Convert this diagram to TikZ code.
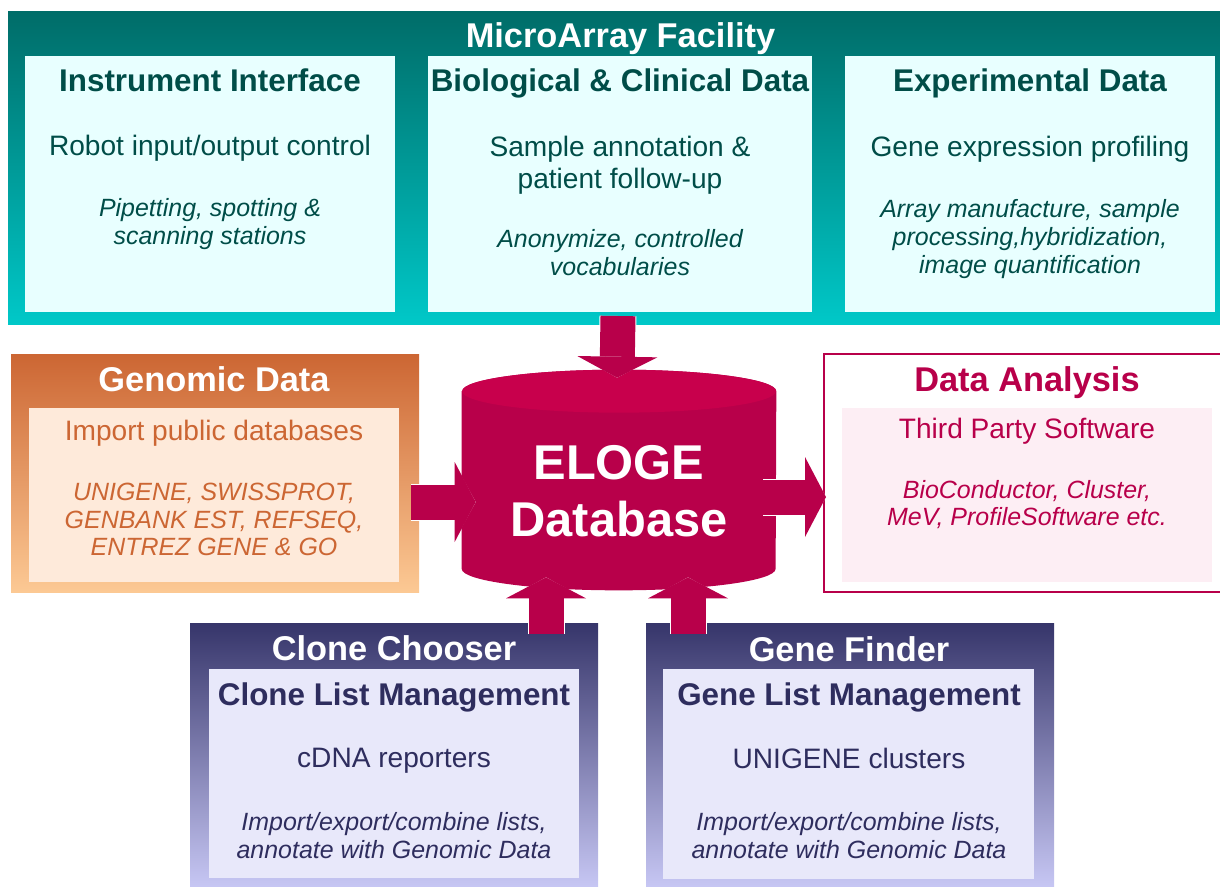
\documentclass[tikz,border=0pt]{standalone}
\usepackage{fontspec}
\setmainfont{Liberation Sans}
\usepackage{xcolor}
\usetikzlibrary{positioning}
\usetikzlibrary{calc,arrows.meta}
\definecolor{tealtop}{HTML}{006C68}
\definecolor{tealbot}{HTML}{00C8C8}
\definecolor{tealin}{HTML}{E8FFFF}
\definecolor{tealtx}{HTML}{004D48}
\definecolor{orgtop}{HTML}{CC6633}
\definecolor{orgbot}{HTML}{FCC994}
\definecolor{orgin}{HTML}{FEEADA}
\definecolor{dbred}{HTML}{B8004A}
\definecolor{dbtop}{HTML}{C8004C}
\definecolor{pinkin}{HTML}{FDEEF4}
\definecolor{navtop}{HTML}{36356A}
\definecolor{navbot}{HTML}{C8C8F5}
\definecolor{navin}{HTML}{E8E8FA}
\definecolor{navtx}{HTML}{2E2D5E}

\begin{document}
\begin{tikzpicture}[x=0.02cm,y=0.02cm,
  box/.style 2 args={anchor=north west,inner sep=0,outer sep=0,
    minimum width=#1*0.02cm,minimum height=#2*0.02cm},
  ttl/.style={inner sep=0,font=\bfseries\fontsize{19.56}{22}\selectfont},
  hd/.style={inner sep=0,font=\bfseries\fontsize{17.86}{20}\selectfont},
  txt/.style={inner sep=0,align=center,font=\fontsize{16}{18.14}\selectfont},
  itx/.style={inner sep=0,align=center,font=\itshape\fontsize{14.2}{15.87}\selectfont},
  fatarrow/.style={draw=dbred,line width=0.7cm,
    -{Triangle[length=0.42cm,width=1.6cm,line width=0pt]},
    preaction={draw=white,line width=0.74cm,
      -{Triangle[length=0.47cm,width=1.7cm,line width=0pt]}}}]
  \useasboundingbox (0,0) rectangle (1220,-886);

  \node[box={1214}{313},top color=tealtop,bottom color=tealbot] (micro) at (8,-11) {};
  \node[box={370}{256},fill=tealin] (instr) at (25,-56) {};
  \node[box={384}{256},fill=tealin] (bio) at (428,-56) {};
  \node[box={370}{256},fill=tealin] (expt) at (845,-56) {};
  \node[box={408}{238},top color=orgtop,bottom color=orgbot] (genomic) at (11,-354) {};
  \node[box={370}{174},fill=orgin] (genin) at (29,-408) {};
  \node[box={400}{238},draw=dbred,line width=0.03cm,fill=white] (analysis) at (824,-354) {};
  \node[box={370}{174},fill=pinkin] (anain) at (842,-408) {};
  \node[box={408}{266},top color=navtop,bottom color=navbot] (clone) at (190,-623) {};
  \node[box={370}{209},fill=navin] (clonein) at (209,-669) {};
  \node[box={408}{266},top color=navtop,bottom color=navbot] (gene) at (646,-623) {};
  \node[box={371}{210},fill=navin] (genein) at (663,-669) {};
  \node[minimum width=6.28cm,minimum height=4.4cm,inner sep=0] (db) at (619,-480) {};

  \fill[dbred] ($(db.north west)+(0,-21.5)$) -- ($(db.south west)+(0,21.5)$)
    arc[start angle=180,end angle=360,x radius=3.14cm,y radius=0.43cm]
    -- ($(db.north east)+(0,-21.5)$)
    arc[start angle=0,end angle=180,x radius=3.14cm,y radius=0.43cm] -- cycle;
  \fill[dbtop] ($(db.north)+(0,-21.5)$) ellipse[x radius=3.14cm,y radius=0.43cm];
  \node[white,align=center,inner sep=0,font=\bfseries\fontsize{27.8}{32.3}\selectfont]
    (dbtxt) at (619,-491) {ELOGE\\Database};

  \node[ttl,white] (microttl) at (620.5,-39) {MicroArray Facility};
  \node[hd,tealtx] (instrhd) at (210,-80) {Instrument Interface};
  \node[txt,tealtx] (instrtx) at (210,-148) {Robot input/output control};
  \node[itx,tealtx] (instrit) at (210,-224) {Pipetting, spotting \&\\scanning stations};
  \node[hd,tealtx] (biohd) at (620,-83.3) {Biological \& Clinical Data};
  \node[txt,tealtx] (biotx) at (620,-165) {Sample annotation \&\\patient follow-up};
  \node[itx,tealtx] (bioit) at (620,-252.5) {Anonymize, controlled\\vocabularies};
  \node[hd,tealtx] (expthd) at (1030,-83.3) {Experimental Data};
  \node[txt,tealtx] (expttx) at (1030,-149) {Gene expression profiling};
  \node[itx,tealtx] (exptit) at (1030,-239) {Array manufacture, sample\\processing,hybridization,\\image quantification};

  \node[ttl,white] (genttl) at (214,-379.5) {Genomic Data};
  \node[txt,orgtop] (gentx) at (214,-433) {Import public databases};
  \node[itx,orgtop] (genit) at (214,-519.5) {UNIGENE, SWISSPROT,\\GENBANK EST, REFSEQ,\\ENTREZ GENE \& GO};

  \node[ttl,dbred] (anattl) at (1027,-383) {Data Analysis};
  \node[txt,dbred] (anatx) at (1027,-431) {Third Party Software};
  \node[itx,dbred] (anait) at (1027,-504.5) {BioConductor, Cluster,\\MeV, ProfileSoftware etc.};

  \node[ttl,white] (clonettl) at (394,-648.5) {Clone Chooser};
  \node[hd,navtx] (clonehd) at (394,-697.5) {Clone List Management};
  \node[txt,navtx] (clonetx) at (394,-760.5) {cDNA reporters};
  \node[itx,navtx] (cloneit) at (394,-835.5) {Import/export/combine lists,\\annotate with Genomic Data};

  \node[ttl,white] (genettl) at (849,-649) {Gene Finder};
  \node[hd,navtx] (genehd) at (849,-697.5) {Gene List Management};
  \node[txt,navtx] (genetx) at (849,-758.5) {UNIGENE clusters};
  \node[itx,navtx] (geneit) at (849,-835.5) {Import/export/combine lists,\\annotate with Genomic Data};

  \draw[fatarrow] ($(micro.south)+(3,8)$) -- ($(db.north)+(-2,-8)$);
  \draw[fatarrow] ($(genomic.east)+(-8,-29)$) -- ($(db.west)+(14,-22)$);
  \draw[fatarrow] ($(db.east)+(-13,-17)$) -- ($(analysis.west)+(2,-24)$);
  \draw[fatarrow] ($(clone.north)+(152,-11)$) -- ($(db.south)+(-73,13)$);
  \draw[fatarrow] ($(gene.north)+(-162,-11)$) -- ($(db.south)+(69,13)$);
\end{tikzpicture}
\end{document}
